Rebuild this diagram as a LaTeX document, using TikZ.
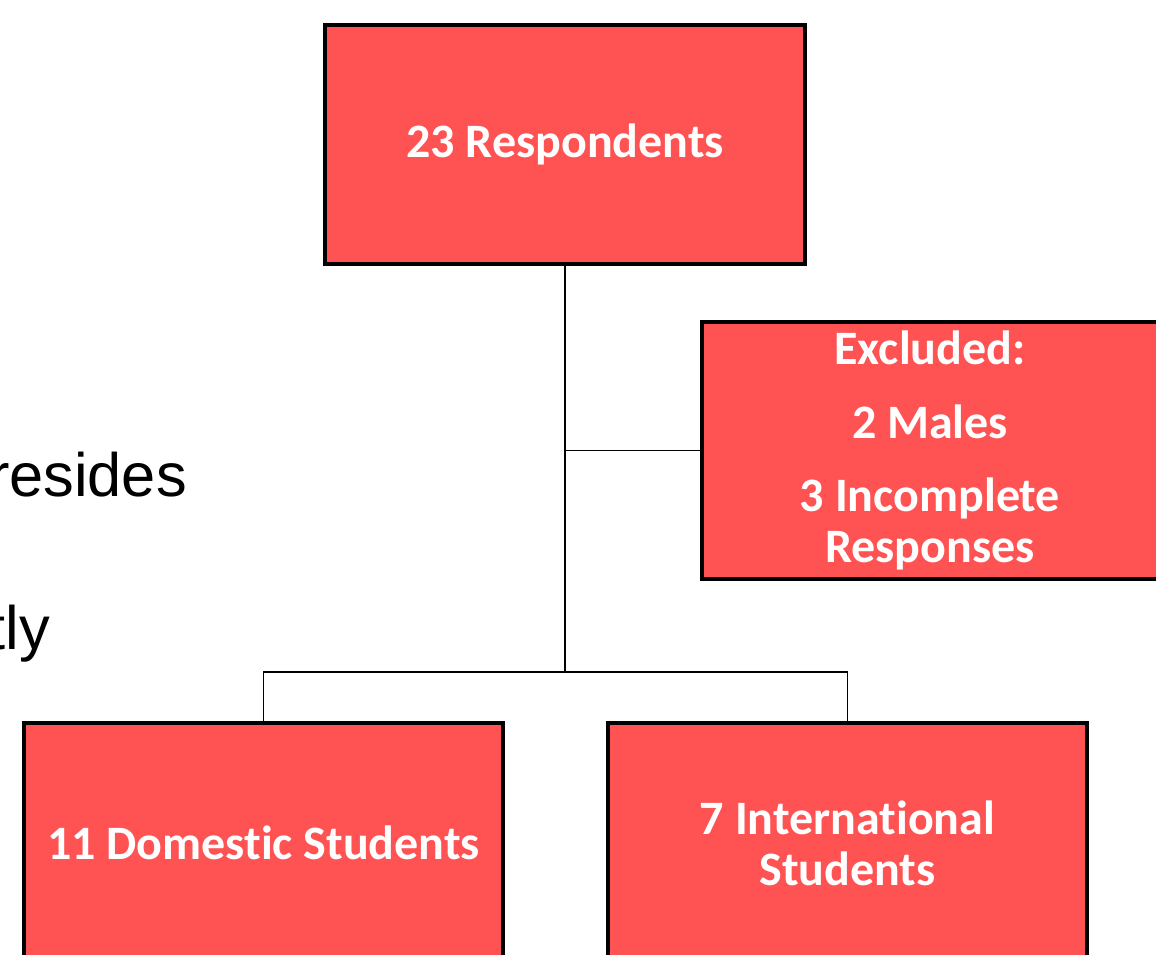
\documentclass[tikz,border=0pt]{standalone}
\usepackage{fontspec}
\setmainfont{Carlito}[Ligatures=NoCommon]
\newfontfamily\slidefont{Liberation Sans}
\definecolor{boxred}{RGB}{255,82,82}
\tikzset{
  stagebox/.style={draw=black, line width=3.2pt, fill=boxred, text=white,
    font=\fontsize{36}{38.3}\selectfont\bfseries, align=center, inner sep=0pt},
  link/.style={line width=1.1pt},
  slidetext/.style={font=\slidefont\fontsize{46}{50}\selectfont, anchor=base east, inner sep=0pt}
}
\begin{document}
\begin{tikzpicture}[x=0.75pt,y=-0.75pt]
  \useasboundingbox (0,0) rectangle (1156,955);
  \clip (0,0) rectangle (1156,955);
  % slide text behind the chart
  \node[slidetext] (resides) at (187,496) {resides};
  \node[slidetext] (tly) at (50,649) {tly};
  % boxes
  \node[stagebox, minimum width=360pt, minimum height=179.25pt] (top) at (565,144.5) {23 Respondents};
  \node[stagebox, minimum width=342pt, minimum height=192.75pt] (excl) at (930,450.5)
    {Excluded:\\[17pt] 2 Males\\[17pt] 3 Incomplete\\ Responses};
  \node[stagebox, minimum width=359.25pt, minimum height=180pt] (dom) at (263.5,843) {11 Domestic Students};
  \node[stagebox, minimum width=359.25pt, minimum height=180pt] (intl) at (847.5,843) {7 International\\ Students};
  % connectors
  \coordinate (split) at (565,672);
  \draw[link] (top.south) -- (split);
  \draw[link] (top.south |- excl.west) -- (excl.west);
  \draw[link] (dom.north) |- (split) -| (intl.north);
\end{tikzpicture}
\end{document}
